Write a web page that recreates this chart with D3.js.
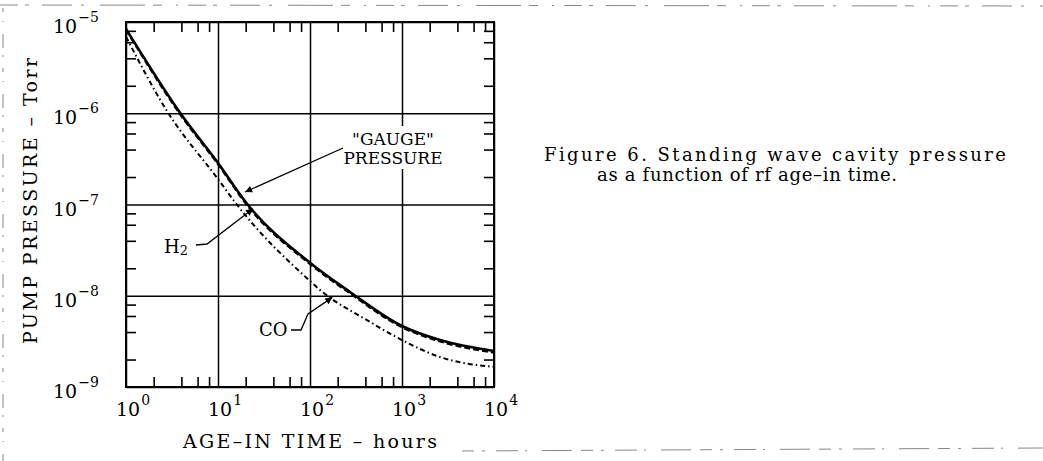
<!DOCTYPE html>
<html>
<head>
<meta charset="utf-8">
<title></title>
<style>
    body { margin: 0; background: #fff; }
    text { font-family: "DejaVu Serif", serif; fill: #000; }
    .tick text { display: none; }
    .domain { display: none; }
</style>
</head>
<body>
<script src="https://cdn.jsdelivr.net/npm/d3@7"></script>
<script>
// values (hours, Torr)
var gaugeHours = [1, 3.9, 10, 21, 100, 272, 1000, 2590, 10000];
var gauge = [8.4e-6, 1.0e-6, 2.85e-7, 1.0e-7, 2.3e-8, 1.1e-8, 4.66e-9, 3.27e-9, 2.48e-9];
var h2 = [8.2e-6, 9.6e-7, 2.75e-7, 9.6e-8, 2.22e-8, 1.06e-8, 4.5e-9, 3.15e-9, 2.38e-9];
var coHours = [1, 2.8, 10, 16, 100, 128, 417, 1000, 2590, 10000];
var co = [6.9e-6, 1.05e-6, 1.9e-7, 1.0e-7, 1.45e-8, 1.16e-8, 5.4e-9, 3.27e-9, 2.13e-9, 1.66e-9];

var xDecades = [1, 10, 100, 1000, 10000];
var xExp = ["0", "1", "2", "3", "4"];
var yDecades = [1e-5, 1e-6, 1e-7, 1e-8, 1e-9];
var yExp = ["\u22125", "\u22126", "\u22127", "\u22128", "\u22129"];
var minorSteps = [2, 4, 6, 8];

var width = 1043, height = 461;
var svg = d3.select("body").append("svg")
    .attr("width", width)
    .attr("height", height);
svg.append("rect").attr("width", width).attr("height", height).attr("fill", "#fff");

var x = d3.scaleLog().domain([1, 1e4]).range([126, 494]);
var y = d3.scaleLog().domain([1e-5, 1e-9]).range([22, 387]);

var xMinor = [], yMinor = [];
xDecades.slice(0, 4).forEach(function(d) {
    minorSteps.forEach(function(m) { xMinor.push(d * m); });
});
yDecades.slice(1).forEach(function(d) {
    minorSteps.forEach(function(m) { yMinor.push(d * m); });
});

// scanned page edges
var scan = svg.append("g").attr("stroke", "#888").attr("stroke-width", 1).attr("fill", "none");
scan.append("line").attr("x1", 0).attr("x2", width).attr("y1", 5).attr("y2", 6)
    .attr("stroke-dasharray", "18,7,4,13,30,9,3,16,45,8,9,14,2,10");
scan.append("line").attr("x1", 3).attr("x2", 3).attr("y1", 8).attr("y2", height)
    .attr("stroke-dasharray", "4,9,1,12,14,7,2,11");
scan.append("line").attr("x1", 462).attr("x2", width).attr("y1", 451).attr("y2", 448)
    .attr("stroke-dasharray", "12,8,3,11,22,7,2,15,30,9");

// grid at every decade
svg.append("g")
    .attr("transform", "translate(0,387)")
    .call(d3.axisBottom(x).tickValues(xDecades).tickSize(-365).tickSizeOuter(0))
    .selectAll("line").attr("stroke", "#000").attr("stroke-width", 1.5);
svg.append("g")
    .attr("transform", "translate(126,0)")
    .call(d3.axisLeft(y).tickValues(yDecades).tickSize(-368).tickSizeOuter(0))
    .selectAll("line").attr("stroke", "#000").attr("stroke-width", 1.5);

// minor ticks, inside on all four sides
var tickLen = 10;
[
    [d3.axisBottom(x).tickValues(xMinor), "translate(0,387)"],
    [d3.axisTop(x).tickValues(xMinor), "translate(0,22)"],
    [d3.axisLeft(y).tickValues(yMinor), "translate(126,0)"],
    [d3.axisRight(y).tickValues(yMinor), "translate(494,0)"]
].forEach(function(a) {
    svg.append("g")
        .attr("transform", a[1])
        .call(a[0].tickSize(-tickLen).tickSizeOuter(0))
        .selectAll("line").attr("stroke", "#000").attr("stroke-width", 1.6);
});

svg.append("rect")
    .attr("x", 126).attr("y", 22)
    .attr("width", 368).attr("height", 365)
    .attr("fill", "none").attr("stroke", "#000").attr("stroke-width", 2);

// tick labels
xDecades.forEach(function(d, i) {
    var t = svg.append("text")
        .attr("x", x(d) - 10)
        .attr("y", 416)
        .attr("font-size", 19)
        .text("10");
    t.append("tspan").attr("dx", 1).attr("dy", -11).attr("font-size", 14).text(xExp[i]);
});
yDecades.forEach(function(d, i) {
    var t = svg.append("text")
        .attr("x", 53)
        .attr("y", y(d) + 11)
        .attr("font-size", 19)
        .text("10");
    t.append("tspan").attr("dx", 1).attr("dy", -11).attr("font-size", 14).text(yExp[i]);
});

// axis titles
svg.append("text")
    .attr("x", 183).attr("y", 448)
    .attr("font-size", 19)
    .attr("textLength", 254).attr("lengthAdjust", "spacing")
    .text("AGE\u2013IN TIME  \u2013  hours");
svg.append("text")
    .attr("transform", "translate(37,344) rotate(-90)")
    .attr("font-size", 19)
    .attr("textLength", 286).attr("lengthAdjust", "spacing")
    .text("PUMP PRESSURE  \u2013  Torr");

// curves
var line = d3.line()
    .x(function(d) { return x(d[0]); })
    .y(function(d) { return y(d[1]); })
    .curve(d3.curveMonotoneX);

svg.append("path")
    .attr("d", line(d3.zip(coHours, co)))
    .attr("fill", "none").attr("stroke", "#000").attr("stroke-width", 2)
    .attr("stroke-dasharray", "5,3,1.5,3");
svg.append("path")
    .attr("d", line(d3.zip(gaugeHours, gauge)))
    .attr("fill", "none").attr("stroke", "#000").attr("stroke-width", 2.6);
svg.append("path")
    .attr("d", line(d3.zip(gaugeHours, h2)))
    .attr("fill", "none").attr("stroke", "#000").attr("stroke-width", 2)
    .attr("stroke-dasharray", "6,3");

// annotations
svg.append("defs").append("marker")
    .attr("id", "head")
    .attr("viewBox", "0 0 10 10")
    .attr("refX", 10).attr("refY", 5)
    .attr("markerWidth", 10).attr("markerHeight", 7)
    .attr("markerUnits", "userSpaceOnUse")
    .attr("orient", "auto")
    .append("path").attr("d", "M0,0L10,5L0,10z").attr("fill", "#000");

svg.append("rect")
    .attr("x", 345).attr("y", 126).attr("width", 98).attr("height", 43)
    .attr("fill", "#fff");
svg.append("text")
    .attr("x", 393).attr("y", 145)
    .attr("text-anchor", "middle").attr("font-size", 17)
    .text("\"GAUGE\"");
svg.append("text")
    .attr("x", 393).attr("y", 164)
    .attr("text-anchor", "middle").attr("font-size", 17)
    .text("PRESSURE");

function leader(pts) {
    svg.append("path")
        .attr("d", "M" + pts.join("L"))
        .attr("fill", "none").attr("stroke", "#000").attr("stroke-width", 1.3)
        .attr("marker-end", "url(#head)");
}
leader([[343, 148], [x(19.7), y(1.37e-7)]]);
leader([[196, 245], [207, 244], [x(24), y(9.0e-8)]]);
leader([[291, 330], [301, 330], [308, 314], [x(175), y(9.6e-9)]]);

svg.append("text").attr("x", 164).attr("y", 253).attr("font-size", 18).text("H")
    .append("tspan").attr("dy", 2).attr("font-size", 13).text("2");
svg.append("text").attr("x", 259).attr("y", 336).attr("font-size", 18).text("CO");

// caption
svg.append("text")
    .attr("x", 544).attr("y", 161)
    .attr("font-size", 18)
    .attr("textLength", 462).attr("lengthAdjust", "spacing")
    .text("Figure 6.  Standing wave cavity pressure");
svg.append("text")
    .attr("x", 597).attr("y", 181)
    .attr("font-size", 18)
    .attr("textLength", 300).attr("lengthAdjust", "spacing")
    .text("as a function of rf age\u2013in time.");
</script>
</body>
</html>
